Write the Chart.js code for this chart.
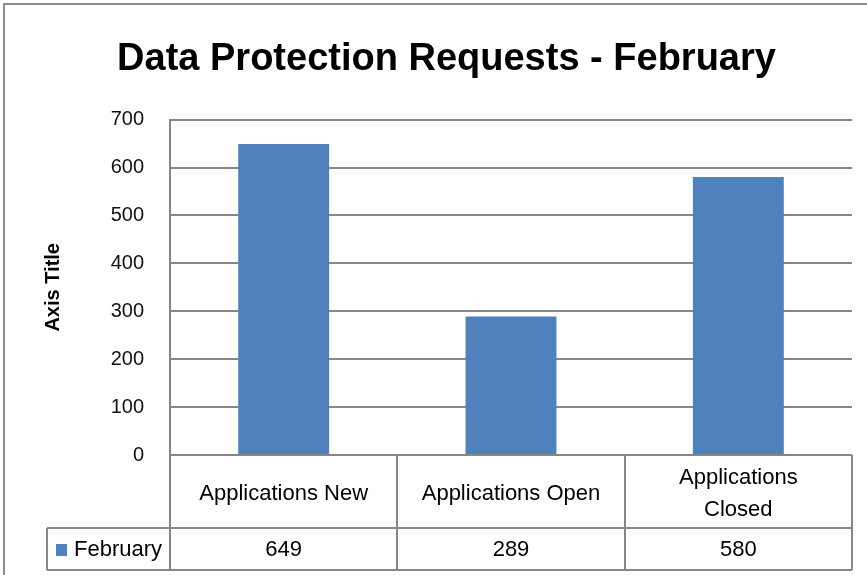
<!DOCTYPE html>
<html>
<head>
<meta charset="utf-8">
<script src="https://cdn.jsdelivr.net/npm/chart.js@4.4.1/dist/chart.umd.min.js"></script>
<style>
    html, body { margin: 0; padding: 0; background: #fff; }
    canvas { display: block; }
</style>
</head>
<body>
<canvas id="requestsChart" width="867" height="575"></canvas>
<script>
// chart data
var categories = ['Applications New', 'Applications Open', 'Applications Closed'];
var seriesName = 'February';
var februaryValues = [649, 289, 580];
var yTicks = [0, 100, 200, 300, 400, 500, 600, 700];

var lineColor = '#878787';
var barColor = '#4f81bd';
var textFont = '"Liberation Sans", Arial, sans-serif';

function wrapText(ctx, text, maxWidth) {
    var words = text.split(' ');
    var lines = [];
    var line = '';
    words.forEach(function(word) {
        var test = line ? line + ' ' + word : word;
        if (line && ctx.measureText(test).width > maxWidth) {
            lines.push(line);
            line = word;
        } else {
            line = test;
        }
    });
    lines.push(line);
    return lines;
}

// draws the frame and the Excel style data table under the plot
var dataTablePlugin = {
    id: 'dataTable',
    beforeDraw: function(chart) {
        var ctx = chart.ctx;
        ctx.save();
        ctx.fillStyle = '#fff';
        ctx.fillRect(0, 0, chart.width, chart.height);
        ctx.strokeStyle = '#8c8c8c';
        ctx.lineWidth = 2;
        ctx.beginPath();
        ctx.moveTo(4, chart.height);
        ctx.lineTo(4, 4);
        ctx.lineTo(chart.width, 4);
        ctx.stroke();
        ctx.restore();
    },
    afterDraw: function(chart) {
        var ctx = chart.ctx;
        var area = chart.chartArea;
        var xScale = chart.scales.x;
        var cellW = (area.right - area.left) / categories.length;
        var headerBottom = area.bottom + 73;
        var rowBottom = area.bottom + 115;
        var legendLeft = 47;

        ctx.save();
        ctx.strokeStyle = lineColor;
        ctx.lineWidth = 2;
        ctx.beginPath();
        // vertical cell borders
        for (var i = 0; i <= categories.length; i++) {
            var bx = Math.round(area.left + cellW * i);
            ctx.moveTo(bx, area.bottom);
            ctx.lineTo(bx, rowBottom);
        }
        ctx.moveTo(legendLeft, headerBottom);
        ctx.lineTo(legendLeft, rowBottom);
        // horizontal borders
        ctx.moveTo(legendLeft, headerBottom);
        ctx.lineTo(area.right, headerBottom);
        ctx.moveTo(legendLeft, rowBottom);
        ctx.lineTo(area.right, rowBottom);
        ctx.stroke();

        ctx.fillStyle = '#000';
        ctx.font = '22px ' + textFont;
        ctx.textAlign = 'center';
        ctx.textBaseline = 'middle';
        var headerMid = (area.bottom + headerBottom) / 2 + 2;
        var rowMid = (headerBottom + rowBottom) / 2 + 1;
        categories.forEach(function(cat, i) {
            var cx = xScale.getPixelForValue(i);
            var lines = wrapText(ctx, cat, cellW - 42);
            var lh = 32;
            var y0 = headerMid - (lines.length - 1) * lh / 2;
            lines.forEach(function(l, j) {
                ctx.fillText(l, cx, y0 + j * lh);
            });
            ctx.fillText(String(chart.data.datasets[0].data[i]), cx, rowMid);
        });

        // legend key
        ctx.fillStyle = barColor;
        ctx.fillRect(legendLeft + 9, rowMid - 6, 11, 12);
        ctx.fillStyle = '#000';
        ctx.textAlign = 'left';
        ctx.fillText(chart.data.datasets[0].label, legendLeft + 27, rowMid);
        ctx.restore();
    }
};

var ctx = document.getElementById('requestsChart').getContext('2d');
var requestsChart = new Chart(ctx, {
    type: 'bar',
    data: {
        labels: categories,
        datasets: [{
            label: seriesName,
            data: februaryValues,
            backgroundColor: barColor,
            borderWidth: 0,
            barPercentage: 0.4,
            categoryPercentage: 1.0
        }]
    },
    options: {
        responsive: false,
        devicePixelRatio: 1,
        animation: false,
        layout: {
            padding: { left: 41, right: 15, top: 0, bottom: 120 }
        },
        scales: {
            x: {
                display: false
            },
            y: {
                min: 0,
                max: 700,
                afterBuildTicks: function(scale) {
                    scale.ticks = yTicks.map(function(v) { return { value: v }; });
                },
                afterFit: function(scale) {
                    scale.width = 129;
                },
                grid: {
                    color: lineColor,
                    lineWidth: 2,
                    drawTicks: false
                },
                border: { color: lineColor, width: 2 },
                ticks: {
                    padding: 26,
                    color: '#111',
                    font: { family: textFont, size: 20 }
                },
                title: {
                    display: true,
                    text: 'Axis Title',
                    color: '#000',
                    padding: 0,
                    font: { family: textFont, size: 20, weight: 'bold' }
                }
            }
        },
        plugins: {
            legend: { display: false },
            tooltip: { enabled: false },
            title: {
                display: true,
                text: 'Data Protection Requests - February',
                color: '#000',
                padding: { top: 37, bottom: 37 },
                font: { family: textFont, size: 38, weight: 'bold' }
            }
        }
    },
    plugins: [dataTablePlugin]
});
</script>
</body>
</html>
